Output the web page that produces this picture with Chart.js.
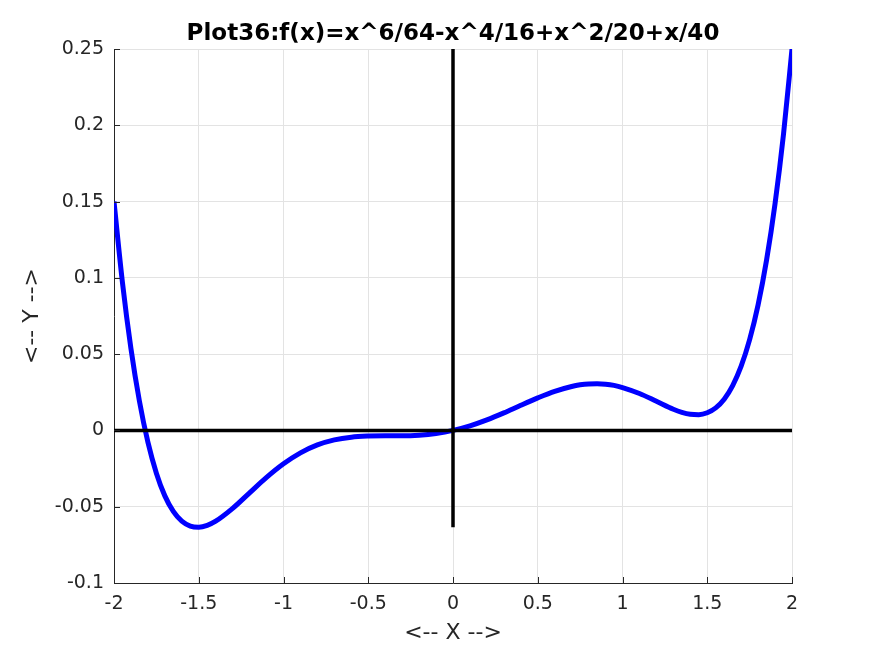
<!DOCTYPE html>
<html lang="en">
<head>
    <meta charset="UTF-8">
    <title>Plot36</title>
    <script src="https://cdn.jsdelivr.net/npm/chart.js"></script>
    <style>
      html, body { margin: 0; padding: 0; background: #fff; }
    </style>
</head>
<body>
    <div style="width: 875px; height: 656px;">
      <canvas id="plotChart"></canvas>
    </div>

    <script>
      // Curve samples
      const xValues = [-2, -1.95, -1.9, -1.85, -1.8, -1.75, -1.7, -1.65, -1.6, -1.55, -1.5, -1.45, -1.4, -1.3, -1.2, -1.1, -1,
                       -0.9, -0.8, -0.7, -0.6, -0.5, -0.4, -0.3, -0.2, -0.1, 0,
                       0.1, 0.2, 0.3, 0.4, 0.5, 0.6, 0.7, 0.75, 0.8, 0.85, 0.9, 0.95, 1,
                       1.1, 1.2, 1.3, 1.35, 1.4, 1.45, 1.5, 1.55, 1.6, 1.65, 1.7, 1.75, 1.8, 1.85, 1.9, 1.95, 2];
      const yValues = [0.15, 0.0968, 0.0536, 0.0192, -0.0077, -0.028, -0.0429, -0.0531, -0.0595, -0.0627, -0.0634, -0.0622, -0.0595, -0.0511, -0.0409, -0.0308, -0.0219,
                       -0.0147, -0.0095, -0.0062, -0.0044, -0.0037, -0.0035, -0.0035, -0.0031, -0.002, 0,
                       0.003, 0.0069, 0.0115, 0.0165, 0.0213, 0.0256, 0.0288, 0.0299, 0.0305, 0.0306, 0.0303, 0.0295, 0.0281,
                       0.0242, 0.0191, 0.0139, 0.0119, 0.0106, 0.0103, 0.0116, 0.0148, 0.0205, 0.0294, 0.0421, 0.0595, 0.0823, 0.1117, 0.1486, 0.1943, 0.25];

      // Black reference axes drawn through the origin
      const hAxisX = [-2, 2];
      const hAxisY = [0, 0];
      const vAxisX = [0, 0];
      const vAxisY = [-0.0634, 0.25];

      const xTicks = [-2, -1.5, -1, -0.5, 0, 0.5, 1, 1.5, 2];
      const yTicks = [-0.1, -0.05, 0, 0.05, 0.1, 0.15, 0.2, 0.25];

      const titleText = 'Plot36:f(x)=x^6/64-x^4/16+x^2/20+x/40';

      const toPoints = (xs, ys) => xs.map((x, i) => ({ x: x, y: ys[i] }));
      const fmt = v => String(+Number(v).toFixed(4));

      // inward tick marks and a title centred over the axes
      const axesDecor = {
        id: 'axesDecor',
        afterDraw(chart) {
          const ctx = chart.ctx;
          const xs = chart.scales.x, ys = chart.scales.y;
          const area = chart.chartArea;
          ctx.save();
          ctx.strokeStyle = '#262626';
          ctx.lineWidth = 1;
          ctx.beginPath();
          xTicks.forEach(v => {
            const px = Math.round(xs.getPixelForValue(v)) + 0.5;
            ctx.moveTo(px, area.bottom);
            ctx.lineTo(px, area.bottom - 6);
          });
          yTicks.forEach(v => {
            const py = Math.round(ys.getPixelForValue(v)) + 0.5;
            ctx.moveTo(area.left, py);
            ctx.lineTo(area.left + 6, py);
          });
          ctx.stroke();

          ctx.fillStyle = '#000000';
          ctx.font = 'bold 23px "DejaVu Sans"';
          ctx.textAlign = 'center';
          ctx.textBaseline = 'alphabetic';
          ctx.fillText(titleText, (area.left + area.right) / 2, 40);
          ctx.restore();
        }
      };

      const ctx = document.getElementById('plotChart');

      new Chart(ctx, {
        type: 'scatter',
        data: {
          datasets: [
            {
              label: 'x axis',
              data: toPoints(hAxisX, hAxisY),
              showLine: true,
              borderColor: '#000000',
              borderWidth: 3.5,
              pointRadius: 0,
              order: 0
            },
            {
              label: 'y axis',
              data: toPoints(vAxisX, vAxisY),
              showLine: true,
              borderColor: '#000000',
              borderWidth: 3.5,
              pointRadius: 0,
              order: 0
            },
            {
              label: 'f(x)',
              data: toPoints(xValues, yValues),
              showLine: true,
              borderColor: '#0000ff',
              borderWidth: 5,
              pointRadius: 0,
              cubicInterpolationMode: 'monotone',
              order: 1
            }
          ]
        },
        options: {
          responsive: true,
          maintainAspectRatio: false,
          animation: false,
          events: [],
          layout: { padding: { left: 0, right: 83, top: 49, bottom: 0 } },
          plugins: {
            legend: { display: false },
            tooltip: { enabled: false },
            title: { display: false }
          },
          scales: {
            x: {
              type: 'linear',
              min: -2,
              max: 2,
              afterBuildTicks: s => { s.ticks = xTicks.map(v => ({ value: v })); },
              afterFit: s => { s.height = 73; },
              grid: { color: '#e3e3e3', drawTicks: false },
              border: { display: true, color: '#262626', width: 1 },
              ticks: {
                color: '#262626',
                padding: 10,
                maxRotation: 0,
                font: { family: 'DejaVu Sans', size: 19 },
                callback: fmt
              },
              title: {
                display: true,
                text: '<-- X -->',
                color: '#262626',
                font: { family: 'DejaVu Sans', size: 22 },
                padding: { top: 0, bottom: 10 }
              }
            },
            y: {
              type: 'linear',
              min: -0.1,
              max: 0.25,
              afterBuildTicks: s => { s.ticks = yTicks.map(v => ({ value: v })); },
              afterFit: s => { s.width = 114; },
              grid: { color: '#e3e3e3', drawTicks: false },
              border: { display: true, color: '#262626', width: 1 },
              ticks: {
                color: '#262626',
                padding: 10,
                font: { family: 'DejaVu Sans', size: 19 },
                callback: fmt
              },
              title: {
                display: true,
                text: '<-- Y -->',
                color: '#262626',
                font: { family: 'DejaVu Sans', size: 22 },
                padding: { top: 19, bottom: 0 }
              }
            }
          }
        },
        plugins: [axesDecor]
      });
    </script>
</body>
</html>
